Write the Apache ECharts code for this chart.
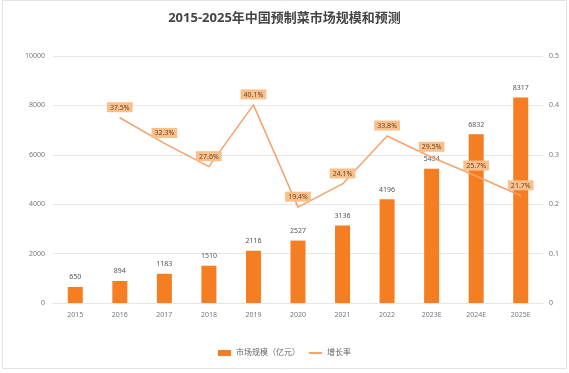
<!DOCTYPE html>
<html><head><meta charset="utf-8">
<script src="https://cdn.jsdelivr.net/npm/echarts@6/dist/echarts.min.js"></script>
<style>html,body{margin:0;padding:0;background:#fff}#c{width:569px;height:373px}</style>
</head><body><div id="c"></div>
<script>
const categories = ['2015','2016','2017','2018','2019','2020','2021','2022','2023E','2024E','2025E'];
const marketSize = [650, 894, 1183, 1510, 2116, 2527, 3136, 4196, 5434, 6832, 8317];
const growthRate = [null, 0.375, 0.323, 0.276, 0.401, 0.194, 0.241, 0.338, 0.295, 0.257, 0.217];
const leftTicks = [0, 2000, 4000, 6000, 8000, 10000];
const rightTicks = [0, 0.1, 0.2, 0.3, 0.4, 0.5];
const titleText = '2015-2025年中国预制菜市场规模和预测';
const seriesNames = ['市场规模（亿元）', '增长率'];

const FONT = '"Noto Sans", "Noto Sans CJK SC", sans-serif';
const chart = echarts.init(document.getElementById('c'), null, {renderer: 'canvas'});
chart.setOption({
  animation: false,
  textStyle: {fontFamily: FONT},
  graphic: [{type: 'rect', shape: {x: 2.5, y: 0.5, width: 564, height: 368}, style: {fill: 'none', stroke: '#e3e3e3', lineWidth: 1}, z: -1}],
  title: {text: titleText, left: 'center', top: 7, textStyle: {fontSize: 13, fontWeight: 'bold', color: '#454545', fontFamily: FONT}},
  legend: {
    bottom: 11, left: 'center', itemWidth: 13, itemHeight: 6, itemGap: 8,
    textStyle: {fontSize: 8, color: '#666'},
    data: [{name: seriesNames[0], icon: 'rect'}, {name: seriesNames[1], itemStyle: {opacity: 0}}]
  },
  grid: {left: 53, right: 26, top: 56, bottom: 70, containLabel: false},
  xAxis: {
    type: 'category', data: categories,
    axisLine: {show: true, lineStyle: {color: '#e6e6e6'}}, axisTick: {show: false},
    axisLabel: {fontSize: 7, color: '#777', margin: 8}
  },
  yAxis: [{
    type: 'value', min: leftTicks[0], max: leftTicks[leftTicks.length - 1], interval: 2000,
    axisLine: {show: false}, axisTick: {show: false},
    axisLabel: {fontSize: 7, color: '#777', margin: 8, formatter: v => String(v)},
    splitLine: {lineStyle: {color: '#e8e8e8'}}
  }, {
    type: 'value', min: rightTicks[0], max: rightTicks[rightTicks.length - 1], interval: 0.1,
    axisLine: {show: false}, axisTick: {show: false},
    axisLabel: {fontSize: 7, color: '#777', margin: 6, formatter: v => String(+v.toFixed(1))},
    splitLine: {show: false}
  }],
  series: [{
    name: seriesNames[0], type: 'bar', data: marketSize, barWidth: 15, yAxisIndex: 0,
    itemStyle: {color: '#f57d22'},
    label: {show: true, position: 'top', fontSize: 7, color: '#555', distance: 6}
  }, {
    name: seriesNames[1], type: 'line', data: growthRate, yAxisIndex: 1,
    symbol: 'circle', showSymbol: true, symbolSize: 1, connectNulls: false,
    lineStyle: {color: '#f5a36a', width: 1.5},
    itemStyle: {color: '#f5a36a'},
    label: {
      show: true, position: 'top', distance: 5, fontSize: 7, color: '#6b4526',
      backgroundColor: '#f9c08b', padding: [2, 3, 1, 3],
      formatter: p => p.value == null ? '' : (p.value * 100).toFixed(1) + '%'
    },
    z: 5
  }]
});
</script></body></html>
